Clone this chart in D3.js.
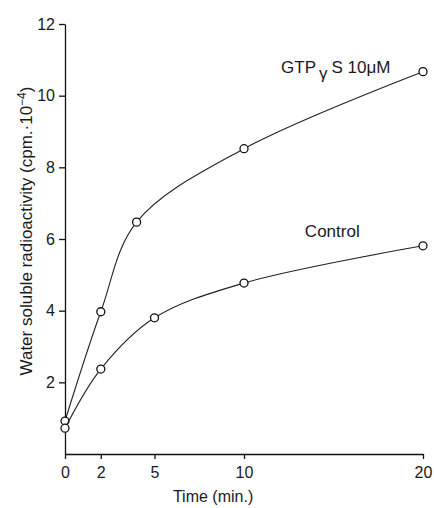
<!DOCTYPE html>
<html lang="en">
<head>
<meta charset="utf-8">
<title>Water soluble radioactivity vs time</title>
<script src="https://d3js.org/d3.v7.min.js"></script>
<style>
  body { margin: 0; background: #fff; }
  text { font-family: "Liberation Sans", "DejaVu Sans", sans-serif; fill: #1a1a1a; }
  .axis path, .axis line { stroke: #111; stroke-width: 1.3; }
  .axis text { font-size: 16px; }
  .series path { fill: none; stroke: #222; stroke-width: 1.1; }
  .series circle { fill: #fff; stroke: #111; stroke-width: 1.3; }
</style>
</head>
<body>
<script>
var w = 434, h = 508;
var margin = {top: 24, right: 11, bottom: 54, left: 65};
var innerW = w - margin.left - margin.right,
    innerH = h - margin.top - margin.bottom;

// data
var times = [0, 2, 4, 10, 20];
var gtpValues = [0.92, 3.97, 6.47, 8.52, 10.67];
var controlTimes = [0, 2, 5, 10, 20];
var controlValues = [0.72, 2.37, 3.8, 4.77, 5.81];
var xTicks = [0, 2, 5, 10, 20];
var yTicks = [2, 4, 6, 8, 10, 12];

var x = d3.scaleLinear().domain([0, 20]).range([0, innerW]);
var y = d3.scaleLinear().domain([0, 12]).range([innerH, 0]);

var svg = d3.select('body').append('svg')
    .attr('width', w)
    .attr('height', h)
  .append('g')
    .attr('transform', 'translate(' + [margin.left, margin.top] + ')');

var xAxis = d3.axisBottom(x).tickValues(xTicks).tickSize(5).tickPadding(8).tickSizeOuter(0);
var yAxis = d3.axisLeft(y).tickValues(yTicks).tickSize(6).tickPadding(4).tickSizeOuter(0);

svg.append('g')
  .attr('class', 'x axis')
  .attr('transform', 'translate(0,' + innerH + ')')
  .call(xAxis);
svg.append('g')
  .attr('class', 'y axis')
  .call(yAxis);

var line = d3.line()
  .x(function(d) { return x(d.t); })
  .y(function(d) { return y(d.v); })
  .curve(d3.curveCatmullRom.alpha(0.5));

var series = [
  times.map(function(t, i) { return {t: t, v: gtpValues[i]}; }),
  controlTimes.map(function(t, i) { return {t: t, v: controlValues[i]}; })
];

var g = svg.selectAll('.series')
  .data(series)
  .enter().append('g')
  .attr('class', 'series');
g.append('path').attr('d', line);
g.selectAll('circle')
  .data(function(d) { return d; })
  .enter().append('circle')
  .attr('cx', function(d) { return x(d.t); })
  .attr('cy', function(d) { return y(d.v); })
  .attr('r', 4);

// series labels
var gl = svg.append('text')
  .attr('x', x(12.07))
  .attr('y', y(10.63))
  .style('font-size', '17px');
gl.append('tspan').text('GTP');
gl.append('tspan').attr('dy', 6).attr('dx', 3).text('γ');
gl.append('tspan').attr('dy', -6).attr('dx', 4).text('S 10μM');

svg.append('text')
  .attr('x', x(13.4))
  .attr('y', y(6.06))
  .style('font-size', '17px')
  .text('Control');

// axis titles
svg.append('text')
  .attr('x', x(6.03))
  .attr('y', innerH + 48)
  .style('font-size', '16px')
  .text('Time (min.)');

var yl = svg.append('text')
  .attr('transform', 'translate(' + (-33) + ',' + 207 + ') rotate(-90)')
  .attr('text-anchor', 'middle')
  .style('font-size', '17px');
yl.append('tspan').text('Water soluble radioactivity (cpm.·10');
yl.append('tspan').attr('dy', -6).style('font-size', '12px').text('−4');
yl.append('tspan').attr('dy', 6).text(')');
</script>
</body>
</html>
